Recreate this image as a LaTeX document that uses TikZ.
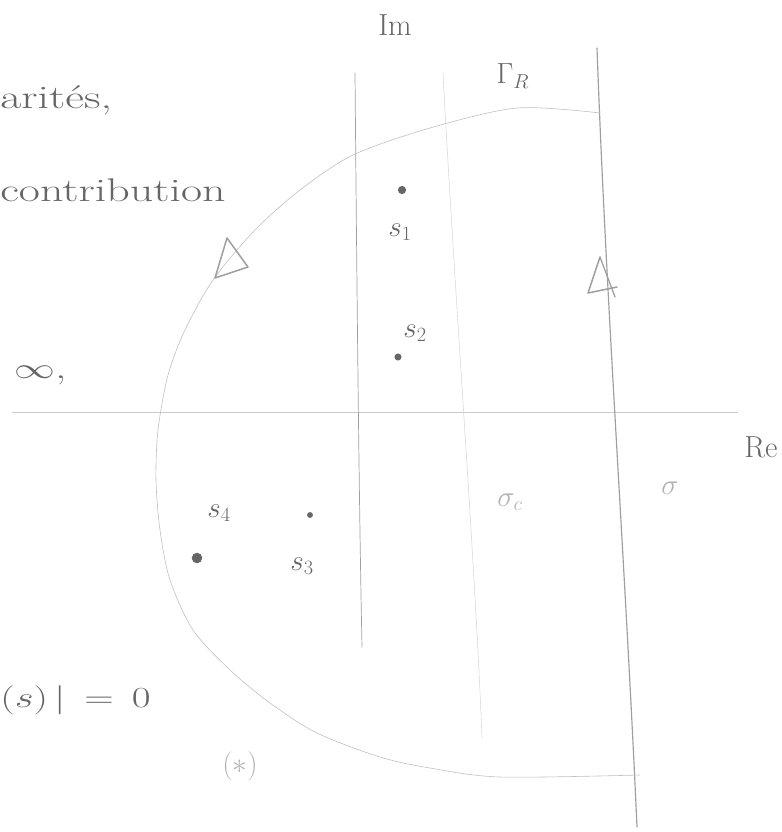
\documentclass[tikz,border=0pt]{standalone}
\usepackage{amssymb}
\begin{document}
\begin{tikzpicture}[x=0.03cm,y=-0.03cm,
    pencil/.style={gray!75, line width=0.6pt, line cap=round},
    faint/.style={gray!40, line width=0.5pt},
    hand/.style={text=gray!80!black, font=\fontsize{26}{30}\selectfont},
    note/.style={hand, anchor=west, inner sep=0pt, xscale=1.4, font=\fontsize{28}{32}\selectfont},
    pole/.style={circle, fill=gray!80!black, inner sep=0pt, minimum size=#1}]
\useasboundingbox (0,0) rectangle (782,832);
\def\sigmaline{(597,48) .. controls (606,300) and (625,560) .. (637,827)}
\def\sigmacline{(443,73) .. controls (455,300) and (475,560) .. (482,738)}

% axes
\draw[faint] (12,412) -- (738,412);
\draw[pencil] (355,73) .. controls (357,300) and (359,500) .. (362,647);
\draw[faint, gray!30] \sigmacline;
\draw[pencil, line width=1pt] \sigmaline;

% contour Gamma_R
\draw[faint, gray!50] plot[smooth] coordinates
  {(600,113) (517,108) (430,128) (353,155) (300,190) (255,230) (213,280)
   (185,330) (168,375) (158,430) (156,480) (160,530) (170,580) (193,630)
   (230,670) (270,703) (317,733) (380,757) (430,768) (500,777) (640,775)};

% direction marks
\draw[pencil, line width=1.3pt, line join=round] (227,238) -- (248,267) -- (215,278) -- cycle;
\draw[pencil, line width=1.3pt, line join=round] (600,257) -- (588,293) -- (617,287);
\draw[pencil, line width=1.1pt] (600,257) -- (615,297);

% poles
\node[pole=7pt] (p1) at (402,190) {};
\node[pole=6pt] (p2) at (398,357) {};
\node[pole=5pt] (p3) at (310,515) {};
\node[pole=9pt] (p4) at (197,558) {};
\node[hand] (s1) at (400,232) {$s_1$};
\node[hand] (s2) at (415,333) {$s_2$};
\node[hand] (s3) at (302,566) {$s_3$};
\node[hand] (s4) at (219,513) {$s_4$};

% labels
\node[hand] (im) at (395,25) {Im};
\node[hand] (re) at (761,447) {Re};
\node[hand, inner sep=1pt] (gam) at (513,76) {$\Gamma_R$};
\node[hand, text=gray!60] (sc) at (510,502) {$\sigma_c$};
\node[hand, text=gray!60] (sig) at (670,488) {$\sigma$};
\node[hand, text=gray!60] (star) at (240,766) {$(\ast)$};

% text on the left
\node[note] (t1) at (0,100) {arités,};
\node[note] (t2) at (0,190) {contribution};
\node[note] (t3) at (14,375) {$\infty$,};
\node[note] (t4) at (0,700) {$(s)\,\Big|\,=\,0$};
\end{tikzpicture}
\end{document}
